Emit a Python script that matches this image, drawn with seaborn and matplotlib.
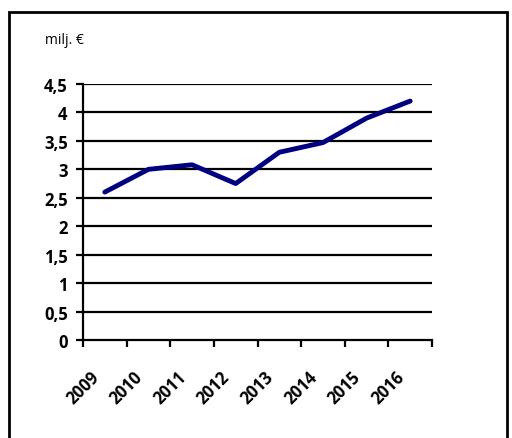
import matplotlib
matplotlib.use("Agg")
import matplotlib.pyplot as plt
import matplotlib.transforms as mtransforms
import seaborn as sns
import pandas as pd
from matplotlib.patches import Rectangle

years = ["2009", "2010", "2011", "2012", "2013", "2014", "2015", "2016"]
values = [2.6, 3.0, 3.08, 2.75, 3.3, 3.47, 3.9, 4.2]
yticks = [0, 0.5, 1, 1.5, 2, 2.5, 3, 3.5, 4, 4.5]
ytick_labels = ["0", "0,5", "1", "1,5", "2", "2,5", "3", "3,5", "4", "4,5"]
unit_label = "milj. €"

sns.set_theme(style="white")
plt.rcParams['font.family'] = ['Open Sans', 'DejaVu Sans']
plt.rcParams['text.color'] = 'black'
plt.rcParams['xtick.labelcolor'] = 'black'
plt.rcParams['ytick.labelcolor'] = 'black'

df = pd.DataFrame({"year": years, "value": values})

fig = plt.figure(figsize=(5.12, 4.39), dpi=100)
ax = fig.add_axes([83/512, 1-341/439, (432-83)/512, (341-85)/439])

for y in yticks[1:]:
    ax.axhline(y, color="black", lw=1.6, zorder=1)

sns.lineplot(data=df, x="year", y="value", ax=ax, color="#000080", lw=3.5,
             sort=False, zorder=3)

ax.set_xlim(-0.5, len(years) - 0.5)
ax.set_ylim(0, 4.5)
ax.set_xlabel("")
ax.set_ylabel("")

ax.set_xticks([i - 0.5 for i in range(len(years) + 1)])
ax.set_xticklabels([])
ax.set_xticks(list(range(len(years))), minor=True)
ax.set_xticklabels(years, minor=True, rotation=45, ha="right",
                   rotation_mode="anchor", fontsize=12, fontweight="bold",
                   color="black")
ax.tick_params(axis="x", which="major", length=5, width=1.6, color="black",
               direction="out", bottom=True)
ax.tick_params(axis="x", which="minor", length=0, pad=20)
offset = mtransforms.ScaledTranslation(-0.15, 0, fig.dpi_scale_trans)
for lab in ax.get_xticklabels(minor=True):
    lab.set_transform(lab.get_transform() + offset)

ax.set_yticks(yticks)
ax.set_yticklabels(ytick_labels, fontsize=12, fontweight="bold", color="black")
ax.tick_params(axis="y", length=5, width=1.6, color="black", direction="out",
               left=True, pad=6)

for s in ["top", "right"]:
    ax.spines[s].set_visible(False)
for s in ["left", "bottom"]:
    ax.spines[s].set_color("black")
    ax.spines[s].set_linewidth(1.6)
    ax.spines[s].set_zorder(4)

fig.text(45/512, 1-40/439, unit_label, fontsize=10, va="center", ha="left")

fig.patches.append(Rectangle((9/512, -0.05), 0.99 - 9/512, 0.05 + 1 - 13/439,
                             transform=fig.transFigure, fill=False,
                             edgecolor="black", lw=2))

fig.savefig("out.png", dpi=100)
